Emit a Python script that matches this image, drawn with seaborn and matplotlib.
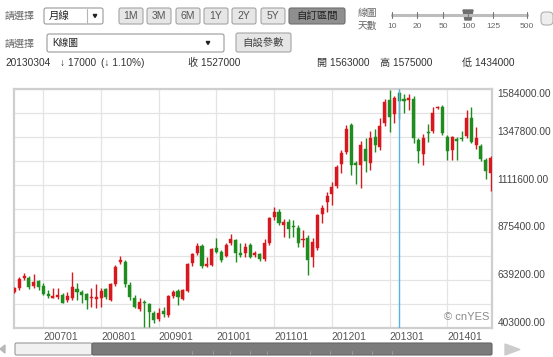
import numpy as np
import pandas as pd
import matplotlib
matplotlib.use("Agg")
import matplotlib.pyplot as plt
from matplotlib.patches import FancyBboxPatch, Polygon
import seaborn as sns

# ── data: monthly OHLC (2006-07 .. 2014-10) ─────────────────
months = pd.period_range("2006-07", "2014-10", freq="M").strftime("%Y%m").tolist()

opens = [582, 601, 650, 652, 611, 633, 613, 573, 553, 556, 564, 539,
         550, 597, 582, 570, 550, 546, 550, 594, 541, 619, 729, 731,
         616, 551, 495, 533, 520, 476, 449, 487, 467, 561, 588, 545,
         586, 726, 774, 806, 709, 714, 797, 780, 759, 821, 838, 772,
         772, 813, 762, 767, 742, 821, 951, 978, 912, 928, 905, 899,
         838, 849, 755, 797, 966, 1028, 1067, 1105, 1211, 1273, 1406, 1216,
         1206, 1288, 1218, 1349, 1295, 1416, 1530, 1462, 1563, 1533, 1530, 1533,
         1332, 1263, 1373, 1378, 1489, 1497, 1345, 1284, 1335, 1344, 1352, 1439,
         1306, 1301, 1235, 1170]
highs = [607, 657, 677, 661, 668, 640, 624, 591, 599, 601, 574, 582,
         681, 624, 591, 574, 603, 620, 601, 601, 625, 714, 759, 739,
         630, 566, 550, 541, 527, 487, 502, 507, 566, 591, 596, 596,
         724, 775, 823, 816, 754, 798, 846, 788, 822, 867, 841, 823,
         822, 822, 785, 775, 841, 953, 1003, 989, 940, 940, 937, 912,
         887, 863, 846, 966, 1011, 1076, 1126, 1208, 1283, 1404, 1416, 1228,
         1328, 1340, 1376, 1386, 1439, 1534, 1580, 1549, 1575, 1559, 1559, 1549,
         1342, 1362, 1411, 1495, 1500, 1505, 1357, 1352, 1348, 1376, 1480, 1495,
         1396, 1312, 1243, 1251]
lows = [574, 591, 638, 594, 599, 591, 566, 550, 550, 546, 525, 533,
        541, 541, 527, 497, 508, 502, 508, 546, 537, 613, 719, 607,
        541, 500, 487, 406, 408, 428, 438, 457, 459, 551, 517, 539,
        581, 709, 764, 698, 704, 709, 772, 731, 752, 811, 731, 755,
        755, 747, 755, 734, 736, 813, 937, 912, 854, 846, 854, 805,
        805, 665, 706, 788, 920, 978, 1011, 1093, 1167, 1265, 1161, 1114,
        1095, 1175, 1184, 1273, 1283, 1399, 1371, 1416, 1434, 1465, 1480, 1317,
        1217, 1208, 1322, 1365, 1483, 1357, 1233, 1235, 1233, 1327, 1344, 1316,
        1288, 1230, 1141, 1078]
closes = [602, 644, 662, 606, 632, 606, 573, 561, 561, 564, 529, 559,
          607, 582, 566, 541, 558, 558, 588, 555, 619, 706, 739, 618,
          556, 509, 533, 525, 480, 443, 476, 470, 559, 583, 555, 591,
          718, 767, 808, 709, 719, 792, 780, 739, 813, 844, 772, 764,
          805, 755, 775, 742, 821, 945, 978, 920, 928, 891, 900, 824,
          845, 739, 830, 961, 994, 1053, 1101, 1201, 1270, 1385, 1208, 1208,
          1307, 1228, 1344, 1307, 1401, 1520, 1447, 1538, 1527, 1525, 1539, 1342,
          1278, 1342, 1366, 1464, 1493, 1366, 1279, 1345, 1328, 1337, 1439, 1324,
          1342, 1240, 1180, 1243]

y_labels = [403000, 639200, 875400, 1111600, 1347800, 1584000]
selected = "201303"

df = pd.DataFrame({"month": months, "open": opens, "high": highs,
                   "low": lows, "close": closes})
df[["open", "high", "low", "close"]] *= 1000
df["idx"] = np.arange(len(df))
df["up"] = df["close"] >= df["open"]

RED, GREEN = "#d7191f", "#1e8c1e"
W, H = 553, 357

sns.set_theme(style="white")
plt.rcParams["font.family"] = ["Liberation Sans", "Noto Sans CJK TC", "DejaVu Sans"]

fig = plt.figure(figsize=(W / 100, H / 100), dpi=100)
fig.patch.set_facecolor("white")

# ── candlestick chart ────────────────────────────────────────
ax = fig.add_axes([14 / W, 1 - 328 / H, (492 - 14) / W, (328 - 89) / H])
colors = np.where(df["up"], RED, GREEN)
ax.vlines(df["idx"], df["low"], df["high"], colors=colors, lw=1, zorder=3)
body_lo = df[["open", "close"]].min(axis=1)
body_h = (df["close"] - df["open"]).abs().clip(lower=3000)
ax.bar(df["idx"], body_h, bottom=body_lo, width=0.64, color=colors,
       edgecolor=colors, lw=0.3, zorder=4)

sel = months.index(selected)
ax.axvline(sel, color="#58b2e3", lw=1, zorder=5)

ax.set_xlim(-0.1, 99.3)
ax.set_ylim(y_labels[0], y_labels[-1])

jan = [i for i, m in enumerate(months) if m.endswith("01")]
ax.set_xticks(jan)
ax.set_xticklabels([months[i] for i in jan], ha="left", fontsize=7.5, color="#555")
ax.set_yticks(y_labels)
ax.set_yticks(np.convolve(y_labels, [0.5, 0.5], "valid"), minor=True)
ax.yaxis.tick_right()
ax.set_yticklabels([f"{v:.2f}" for v in y_labels], fontsize=7.3, color="#444")
for i, lab in enumerate(ax.get_yticklabels()):
    lab.set_va("top" if i == len(y_labels) - 1 else "bottom")
ax.tick_params(axis="both", which="both", length=0)
ax.tick_params(axis="y", pad=4)
ax.tick_params(axis="x", pad=3)
ax.grid(True, which="both", color="#e4e4e4", lw=0.9)
ax.set_axisbelow(True)
for s in ax.spines.values():
    s.set_color("#cfcfcf")
    s.set_linewidth(1.6)
ax.text(0.995, 0.025, "© cnYES", transform=ax.transAxes, ha="right",
        va="bottom", fontsize=8, color="#8a8a8a", zorder=6)

# ── toolbar / header overlay (pixel coordinates) ─────────────
ui = fig.add_axes([0, 0, 1, 1], zorder=10)
ui.set_xlim(0, W)
ui.set_ylim(H, 0)
ui.axis("off")


def box(x0, y0, x1, y1, fc, ec="#a0a0a0", lw=0.8, r=2):
    ui.add_patch(FancyBboxPatch((x0, y0), x1 - x0, y1 - y0,
                                boxstyle=f"round,pad=0,rounding_size={r}",
                                fc=fc, ec=ec, lw=lw))


def txt(x, y, s, size=7.5, color="#444", ha="left", **kw):
    ui.text(x, y, s, fontsize=size, color=color, ha=ha, va="center", **kw)


def tri(cx, cy, w=3.5, h=3, color="#222"):
    ui.add_patch(Polygon([[cx - w / 2, cy - h / 2], [cx + w / 2, cy - h / 2],
                          [cx, cy + h / 2]], closed=True, color=color))


# row 1
txt(5, 16, "請選擇", size=7.2, color="#666")
box(44, 8, 103, 24, "white", "#9a9a9a")
ui.plot([87, 87], [9, 23], color="#b5b5b5", lw=0.8)
txt(49, 16, "月線", color="#222")
tri(95, 16)
for x0, lab in zip([119, 147, 176, 204, 232, 261], ["1M", "3M", "6M", "1Y", "2Y", "5Y"]):
    box(x0, 8, x0 + 24, 24, "#e6e6e6", "#a5a5a5")
    txt(x0 + 12, 16, lab, size=7.5, color="#555", ha="center")
box(289, 8, 345, 24, "#8f8f8f", "#6f6f6f")
txt(317, 16, "自訂區間", size=7.5, color="#222", ha="center")

txt(358, 13, "線圖", size=7, color="#666")
txt(358, 26, "天數", size=7, color="#666")
ui.plot([392, 527], [15, 15], color="#bdbdbd", lw=2.2, solid_capstyle="round")
for x, lab in zip([392, 417, 443, 468, 493, 527], ["10", "20", "50", "100", "125", "500"]):
    ui.plot([x, x], [12, 18], color="#777", lw=0.8)
    txt(x, 26, lab, size=6, color="#666", ha="center")
ui.add_patch(Polygon([[463, 10], [473, 10], [471, 20], [465, 20]], closed=True, color="#6d6d6d"))
box(541, 12, 553, 25, "#eeeeee", "#b0b0b0", r=4)

# row 2
txt(5, 44, "請選擇", size=7.2, color="#666")
box(47, 34, 224, 52, "white", "#9a9a9a")
txt(52, 43, "K線圖", size=7, color="#222")
tri(208, 43)
box(236, 33, 291, 52, "#e6e6e6", "#a5a5a5")
txt(263.5, 42.5, "自設參數", size=7.5, color="#444", ha="center")

# row 3
txt(5, 63, "20130304", size=7.3, color="#333")
txt(60, 63, "↓ 17000", size=7.3, color="#333")
txt(101, 63, "(↓ 1.10%)", size=7.3, color="#333")
txt(188, 63, "收 1527000", size=7.3, color="#333")
txt(317, 63, "開 1563000", size=7.3, color="#333")
txt(380, 63, "高 1575000", size=7.3, color="#333")
txt(462, 63, "低 1434000", size=7.3, color="#333")

# scrollbar
box(15, 343, 92, 355, "#f1f1f1", "#9a9a9a", r=1.5)
box(92, 343, 492, 355, "#7b7b7b", "#666666", r=1.5)
for x in [192, 213, 230, 250, 267, 310, 330, 352, 372, 392]:
    ui.plot([x, x], [351, 355], color="#9c9c9c", lw=0.6)
ui.add_patch(Polygon([[0, 349], [5, 345], [5, 353]], closed=True, color="#b8b8b8"))
ui.add_patch(Polygon([[505, 344], [520, 349.5], [505, 355]], closed=True, color="#cccccc"))

fig.savefig("out.png", dpi=100, facecolor="white")
